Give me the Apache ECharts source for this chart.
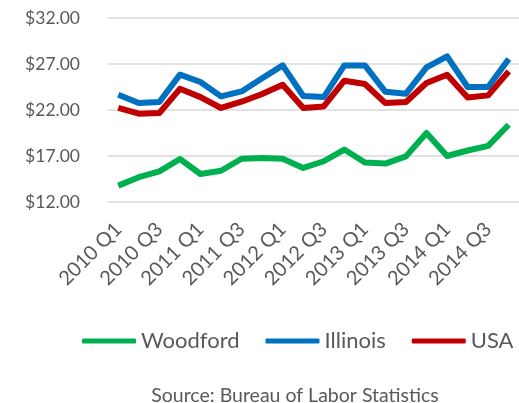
<!DOCTYPE html>
<html>
<head>
<meta charset="utf-8">
<script src="https://cdn.jsdelivr.net/npm/echarts@6/dist/echarts.min.js"></script>
<style>
  html, body { margin: 0; padding: 0; background: #fff; }
  #chart { width: 519px; height: 403px; }
</style>
</head>
<body>
<div id="chart"></div>
<script>
// Average hourly wages by quarter, 2010 Q1 – 2014 Q4
const quarters = [
  '2010 Q1', '2010 Q2', '2010 Q3', '2010 Q4',
  '2011 Q1', '2011 Q2', '2011 Q3', '2011 Q4',
  '2012 Q1', '2012 Q2', '2012 Q3', '2012 Q4',
  '2013 Q1', '2013 Q2', '2013 Q3', '2013 Q4',
  '2014 Q1', '2014 Q2', '2014 Q3', '2014 Q4'
];
const woodford = [13.78, 14.70, 15.33, 16.67, 15.04, 15.40, 16.70, 16.78, 16.70, 15.70,
                  16.43, 17.70, 16.30, 16.18, 16.96, 19.50, 17.00, 17.60, 18.10, 20.40];
const illinois = [23.66, 22.76, 22.87, 25.84, 25.04, 23.48, 24.02, 25.45, 26.85, 23.52,
                  23.41, 26.85, 26.85, 23.98, 23.77, 26.63, 27.83, 24.50, 24.50, 27.55];
const usa      = [22.22, 21.60, 21.67, 24.30, 23.40, 22.22, 22.90, 23.74, 24.75, 22.22,
                  22.39, 25.18, 24.83, 22.75, 22.87, 24.93, 25.84, 23.37, 23.59, 26.20];

const seriesNames = ['Woodford', 'Illinois', 'USA'];
const seriesColors = ['#00b050', '#0070c0', '#c00000'];
const seriesData = [woodford, illinois, usa];

const textColor = '#595959';
const fontFamily = 'Lato, "Open Sans", sans-serif';

const chart = echarts.init(document.getElementById('chart'), null, { renderer: 'canvas' });

chart.setOption({
  animation: false,
  backgroundColor: '#ffffff',
  textStyle: { fontFamily: fontFamily, color: textColor },
  title: {
    text: 'Source: Bureau of Labor Statistics',
    left: 290,
    textAlign: 'center',
    top: 381,
    textStyle: { fontSize: 19.5, fontWeight: 'normal', color: textColor, fontFamily: fontFamily }
  },
  legend: {
    data: seriesNames,
    orient: 'horizontal',
    left: 77,
    width: 470,
    top: 325,
    icon: 'roundRect',
    itemWidth: 54,
    itemHeight: 5,
    itemGap: 26,
    textStyle: { fontSize: 22, color: textColor }
  },
  grid: {
    left: 108,
    top: 18,
    width: 426,
    height: 184,
    containLabel: false
  },
  xAxis: {
    type: 'category',
    data: quarters,
    boundaryGap: true,
    axisLine: { show: false },
    axisTick: { show: false },
    axisLabel: {
      interval: 1,
      rotate: 45,
      fontSize: 20,
      color: textColor,
      margin: 24
    }
  },
  yAxis: {
    type: 'value',
    min: 12,
    max: 32,
    interval: 5,
    axisLine: { show: false },
    axisTick: { show: false },
    axisLabel: {
      fontSize: 17.5,
      color: textColor,
      margin: 28,
      formatter: v => '$' + v.toFixed(2)
    },
    splitLine: { lineStyle: { color: '#d9d9d9', width: 1.5 } }
  },
  series: seriesNames.map((name, i) => ({
    name: name,
    type: 'line',
    data: seriesData[i],
    symbol: 'none',
    lineStyle: { color: seriesColors[i], width: 6, join: 'round' },
    itemStyle: { color: seriesColors[i] },
    clip: false
  }))
});
</script>
</body>
</html>
